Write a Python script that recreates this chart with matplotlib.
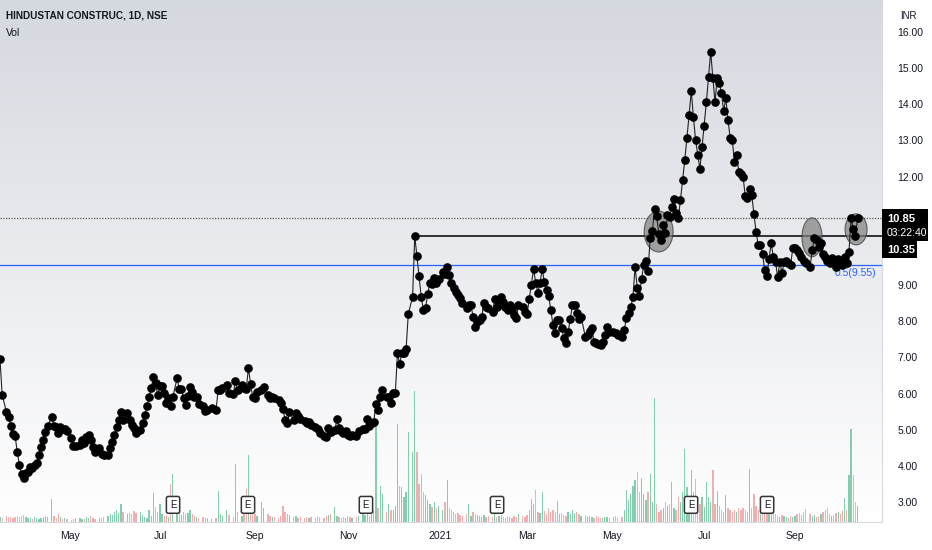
import numpy as np
import matplotlib
matplotlib.use("Agg")
import matplotlib.pyplot as plt
from matplotlib.patches import Ellipse, Rectangle

plt.rcParams['font.family'] = ['Liberation Sans', 'DejaVu Sans']

# bar number (trading session since mid-Mar 2020) for each close
bars = [
    0, 1, 3, 4, 5, 6, 7, 8, 9, 10, 11, 12, 13, 14, 15, 16, 17, 18, 19, 20, 21, 22, 24,
    25, 26, 27, 28, 29, 30, 31, 33, 34, 35, 37, 38, 39, 40, 41, 42, 43, 44, 46,
    47, 48, 50, 51, 52, 53, 54, 55, 56, 57, 59, 60, 61, 62, 63, 65, 66, 67, 68, 69, 70,
    71, 72, 73, 74, 75, 76, 77, 78, 79, 80, 82, 83, 84, 85, 86, 87, 88, 89, 90, 91, 92,
    94, 95, 96, 98, 100, 101, 102, 103, 105, 106, 108, 109, 110, 112, 113, 114, 115, 116,
    117, 118, 119, 121, 122, 124, 125, 126, 127, 129, 130, 131, 132, 133, 134, 136, 137, 138, 139,
    141, 142, 143, 144, 146, 147, 148, 150, 151, 152, 153, 155, 156, 157, 158, 159, 160, 161, 162,
    163, 165, 166, 168, 169, 170, 171, 172, 173, 174, 175, 176, 177, 179, 180, 181, 182, 183, 184, 185,
    186, 187, 188, 189, 191, 192, 193, 194, 195, 196, 197, 198, 199, 200, 201, 202, 203, 205, 206, 207, 208, 209,
    210, 211, 212, 213, 214, 216, 217, 218, 219, 220, 221, 222, 223, 224, 225, 226, 228, 229, 230, 231, 232,
    233, 234, 235, 236, 237, 238, 239, 240, 242, 243, 244, 245, 246, 247, 248, 249, 250, 251, 252, 253, 254, 255,
    256, 257, 258, 259, 260, 261, 262, 263, 264, 265, 266, 267, 268, 269, 271, 272, 273, 274, 275, 276, 277, 278,
    279, 280, 281, 282, 284, 285, 286, 288, 289, 290, 291, 292, 293, 294, 295, 296, 297, 298, 299, 300, 301, 302,
    303, 304, 305, 306, 307, 308, 309, 310, 311, 312, 313, 314, 315, 316, 317, 318, 319, 320, 321, 322, 323, 324, 325,
    326, 327, 328, 329, 330, 331, 332, 333, 334, 335, 336, 337, 338, 339, 340, 341, 342, 343, 344, 345, 346, 347, 348,
    349, 350, 351, 352, 353, 354, 355, 356, 357, 358, 359, 360, 361, 362, 363, 364, 365, 366, 367, 368, 369, 370, 371,
    372, 373, 375, 376, 377, 378, 379, 380, 381, 382, 383, 384, 385, 386, 387, 388, 389, 390, 391, 392, 393, 394, 395, 396, 397,
]

closes = [
    6.95, 5.96, 5.49, 5.35, 5.10, 4.88, 4.82, 4.38, 4.02, 3.77, 3.66, 3.80, 3.83, 3.97, 3.94, 4.02, 4.08, 4.30, 4.52, 4.71, 4.93, 5.10, 5.35,
    5.10, 5.07, 4.91, 5.07, 5.02, 5.02, 4.96, 4.77, 4.55, 4.55, 4.58, 4.71, 4.63, 4.80, 4.85, 4.71, 4.52, 4.38, 4.49,
    4.33, 4.30, 4.30, 4.49, 4.66, 4.85, 5.07, 5.27, 5.49, 5.27, 5.46, 5.27, 5.13, 5.05, 4.91, 4.99, 5.18, 5.40, 5.65, 5.90, 6.15,
    6.46, 6.29, 5.96, 6.21, 6.21, 6.01, 5.74, 5.87, 5.65, 5.90, 6.43, 6.12, 6.12, 5.87, 5.68, 5.93, 6.18, 6.04, 5.90, 5.90, 5.71,
    5.65, 5.52, 5.55, 5.60, 5.54, 6.10, 6.10, 6.15, 6.23, 6.01, 5.99, 6.35, 6.10, 6.23, 6.15, 6.12, 6.71, 6.26,
    5.90, 5.88, 6.04, 6.10, 6.18, 5.96, 5.88, 5.90, 5.88, 5.82, 5.74, 5.57, 5.27, 5.18, 5.49, 5.27, 5.46, 5.38, 5.29,
    5.24, 5.18, 5.21, 5.13, 5.07, 5.02, 4.91, 4.82, 4.80, 5.05, 4.93, 4.99, 5.29, 5.05, 4.96, 4.91, 4.96, 4.85, 4.82,
    4.85, 4.82, 4.96, 5.02, 5.02, 5.29, 5.10, 5.18, 5.21, 5.71, 5.54, 5.90, 6.10, 5.90, 5.90, 5.74, 6.01, 6.01, 7.12, 6.82,
    7.12, 7.12, 7.23, 8.20, 8.67, 10.36, 9.80, 9.25, 8.67, 8.31, 8.37, 8.75, 9.06, 9.03, 9.19, 9.06, 9.17, 9.36, 9.30, 9.50, 9.28, 9.06,
    8.92, 8.81, 8.73, 8.64, 8.50, 8.37, 8.45, 8.45, 8.12, 7.84, 7.98, 8.03, 8.12, 8.50, 8.39, 8.37, 8.26, 8.61, 8.39, 8.50, 8.67,
    8.53, 8.39, 8.31, 8.45, 8.31, 8.17, 8.09, 8.45, 8.39, 8.26, 8.20, 8.61, 9.00, 9.44, 9.06, 8.78, 9.06, 9.44, 9.08, 8.86, 8.70, 8.31,
    7.89, 7.67, 8.03, 8.03, 7.81, 7.54, 7.40, 7.70, 8.06, 8.45, 8.45, 8.23, 8.06, 8.12, 7.56, 7.62, 7.73, 7.81, 7.42, 7.40, 7.37, 7.34,
    7.42, 7.62, 7.84, 7.70, 7.70, 7.67, 7.62, 7.56, 7.76, 8.09, 8.23, 8.39, 8.67, 9.50, 8.92, 8.70, 9.17, 9.55, 9.66, 9.40, 10.30, 10.50,
    11.10, 10.91, 10.41, 10.25, 10.66, 10.44, 10.94, 10.88, 11.16, 11.38, 10.99, 10.85, 11.35, 11.91, 12.46, 13.07, 13.70, 14.37, 13.65, 13.01, 12.60, 12.21, 12.82,
    13.40, 14.06, 14.76, 15.45, 14.73, 14.06, 14.73, 14.59, 14.31, 13.81, 14.17, 13.57, 13.07, 13.01, 12.40, 12.60, 12.13, 12.07, 11.99, 11.46, 11.41, 11.66, 11.49,
    10.97, 10.47, 10.11, 10.11, 9.86, 9.42, 9.25, 9.72, 10.16, 9.78, 9.64, 9.22, 9.64, 9.33, 9.64, 9.66, 9.61, 9.55, 10.02, 10.02, 9.97, 9.89, 9.78,
    9.67, 9.61, 9.50, 9.97, 10.30, 10.25, 10.05, 10.16, 9.86, 9.78, 9.67, 9.61, 9.75, 9.61, 9.50, 9.72, 9.67, 9.55, 9.78, 9.61, 9.92, 10.85, 10.55, 10.36, 10.85,
]

# volume (lakh shares), same sessions
volume = [
    5, 4, 6, 5, 5, 4, 5, 6, 5, 6, 7, 5, 4, 4, 3, 5, 4, 3, 4, 5, 6, 5, 23,
    6, 4, 8, 5, 3, 4, 3, 2, 3, 4, 4, 3, 3, 5, 4, 6, 4, 3, 4,
    4, 5, 6, 8, 7, 10, 12, 9, 18, 10, 8, 9, 8, 11, 9, 10, 7, 5, 4, 12, 6,
    29, 15, 10, 18, 8, 6, 7, 5, 38, 48, 12, 9, 7, 10, 8, 9, 12, 8, 6, 5, 4,
    5, 4, 4, 3, 4, 31, 8, 6, 12, 7, 5, 58, 10, 6, 8, 33, 67, 20,
    10, 8, 6, 20, 14, 8, 6, 5, 5, 4, 6, 16, 10, 8, 7, 5, 6, 4, 5,
    4, 5, 4, 5, 4, 6, 5, 4, 6, 7, 8, 15, 6, 5, 4, 5, 4, 6, 5,
    4, 5, 6, 8, 7, 9, 6, 8, 12, 97, 14, 36, 28, 10, 18, 12, 12, 16, 98, 36,
    35, 25, 30, 90, 70, 131, 70, 38, 48, 30, 27, 22, 18, 15, 20, 14, 16, 12, 20, 42, 14, 12,
    10, 8, 9, 7, 6, 8, 18, 6, 10, 8, 7, 6, 5, 7, 5, 6, 5, 8, 5, 6, 7,
    5, 4, 6, 5, 4, 6, 5, 8, 6, 5, 7, 12, 23, 18, 32, 10, 9, 30, 11, 8, 14, 10,
    12, 10, 21, 8, 9, 7, 6, 10, 8, 12, 9, 10, 8, 6, 7, 5, 6, 5, 4, 6, 5, 4,
    4, 5, 5, 4, 5, 6, 4, 5, 12, 32, 22, 28, 36, 42, 50, 30, 44, 28, 22, 30, 48, 20,
    124, 18, 10, 12, 14, 20, 16, 18, 40, 14, 12, 25, 20, 30, 73, 35, 18, 52, 30, 43, 22, 18, 25,
    15, 40, 25, 20, 52, 18, 31, 16, 12, 10, 27, 14, 12, 10, 12, 10, 14, 12, 14, 12, 10, 53, 14,
    28, 16, 12, 10, 14, 12, 8, 10, 18, 10, 8, 6, 5, 7, 6, 5, 4, 6, 5, 6, 8, 9, 7,
    10, 13, 8, 6, 7, 5, 6, 8, 10, 12, 14, 8, 6, 7, 9, 10, 8, 11, 24, 12, 47, 93, 47, 20, 16,
]

month_labels = ["May", "Jul", "Sep", "Nov", "2021", "Mar", "May", "Jul", "Sep"]
month_pos = [32.4, 74.1, 118.1, 161.1, 203.7, 244.0, 283.3, 325.9, 368.1]
earnings_pos = [80.1, 114.8, 169.4, 230.1, 319.9, 355.1]
fib_level = 9.55
# circled retest zones: (bar, price, width in bars, height in price)
zones = [(304.9, 10.48, 13.4, 1.13), (375.9, 10.32, 9.3, 1.08), (396.3, 10.54, 10.2, 0.86)]

W, H = 932, 550
bars = np.array(bars)
closes = np.array(closes)
volume = np.array(volume)

fig = plt.figure(figsize=(W / 100, H / 100), dpi=100)
fig.patch.set_facecolor("white")

left, bottom, width, height = 0, 28.3 / H, 882 / W, 521.7 / H
xmax = 408.3

# background gradient of the pane
bg = fig.add_axes([left, bottom, width, height], zorder=0)
grad = np.linspace(1, 0, 256).reshape(-1, 1)
top_c = np.array([0.835, 0.847, 0.875])
cols = top_c + (1 - top_c) * (1 - grad[..., None])
bg.imshow(cols, aspect="auto", extent=[0, 1, 0, 1])
bg.axis("off")

# volume
axv = fig.add_axes([left, bottom, width, height], zorder=1)
axv.patch.set_visible(False)
up = np.r_[True, closes[1:] >= closes[:-1]]
vcol = np.where(up, "#86cdb0", "#efb0b2")
axv.bar(bars, volume, width=0.6, color=vcol, linewidth=0)
axv.set_ylim(0, 522)
axv.set_xlim(0, xmax)
axv.axis("off")

# price
ax = fig.add_axes([left, bottom, width, height], zorder=2)
ax.patch.set_visible(False)
ax.set_xlim(0, xmax)
ax.set_ylim(2.454, 16.885)

ax.axhline(closes[-1], color="#555555", lw=0.9, ls=(0, (1, 1.2)), zorder=2)
ax.axhline(fib_level, color="#2962ff", lw=0.9, zorder=2)
peak = int(np.argmax(closes[:250]))
ax.hlines(closes[peak] - 0.01, bars[peak], xmax, color="black", lw=1.1, zorder=2)

for cx, cy, ew, eh in zones:
    ax.add_patch(Ellipse((cx, cy), ew, eh, facecolor="#7f7f7f", alpha=0.7,
                         edgecolor="#333333", lw=0.8, zorder=3))

ax.plot(bars, closes, color="#222222", lw=0.8, marker="o", ms=5.2,
        mfc="black", mec="black", zorder=4)

ax.text(405.6, fib_level - 0.08, "0.5(9.55)", color="#2962ff",
        fontsize=7.5, ha="right", va="top")

for e in earnings_pos:
    ax.text(e, 2.92, "E", fontsize=7, ha="center", va="center", color="#131722",
            bbox=dict(boxstyle="round,pad=0.35,rounding_size=0.2", fc="white",
                      ec="#333333", lw=1.1), zorder=5)

ax.yaxis.tick_right()
ticks = list(range(3, 17))
ax.set_yticks(ticks)
# 10.00 and 11.00 sit under the price-scale tags
ax.set_yticklabels(["" if v in (10, 11) else f"{v:.2f}" for v in ticks],
                   fontsize=7.5, color="#131722")
ax.set_xticks(month_pos)
ax.set_xticklabels(month_labels, fontsize=7.5, color="#131722")
ax.tick_params(axis="both", length=0)
ax.tick_params(axis="y", pad=11)
ax.tick_params(axis="x", pad=7)
for s in ["top", "left"]:
    ax.spines[s].set_visible(False)
ax.spines["right"].set_color("#d6d9e0")
ax.spines["bottom"].set_color("#d6d9e0")
ax.spines["right"].set_linewidth(0.8)
ax.spines["bottom"].set_linewidth(0.8)


def fx(px):
    return px / W


def fy(py):
    return 1 - py / H


# tags on the price scale
fig.patches.append(Rectangle((fx(882), fy(241)), fx(46), 32 / H, transform=fig.transFigure,
                             facecolor="black", edgecolor="none", zorder=10))
fig.patches.append(Rectangle((fx(882), fy(258)), fx(35), 17 / H, transform=fig.transFigure,
                             facecolor="black", edgecolor="none", zorder=10))
fig.text(fx(887), fy(219), f"{closes[-1]:.2f}", color="white", fontsize=8, fontweight="bold",
         va="center", zorder=11)
fig.text(fx(887), fy(233), "03:22:40", color="white", fontsize=7.5, va="center", zorder=11)
fig.text(fx(887), fy(250), "10.35", color="white", fontsize=8, fontweight="bold",
         va="center", zorder=11)
fig.text(fx(900), fy(16), "INR", color="#131722", fontsize=7, va="center")

fig.text(fx(6), fy(16), "HINDUSTAN CONSTRUC, 1D, NSE", color="#131722", fontsize=7.2,
         fontweight="bold", va="center")
fig.text(fx(6), fy(33), "Vol", color="#131722", fontsize=7.5, va="center")

fig.savefig("out.png", dpi=100)
